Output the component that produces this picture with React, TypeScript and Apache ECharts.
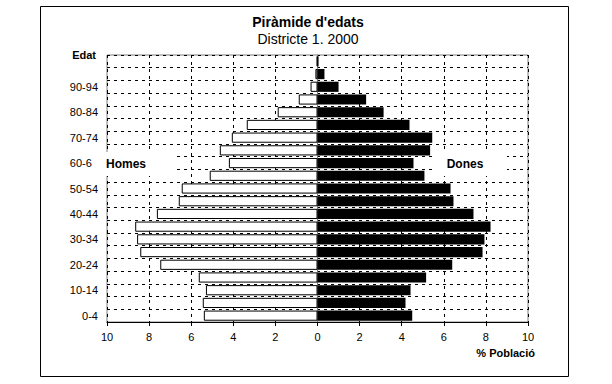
import React, { useEffect, useRef } from "react";
import * as echarts from "echarts";

const ageGroups = ["0-4", "5-9", "10-14", "15-19", "20-24", "25-29", "30-34", "35-39", "40-44", "45-49", "50-54", "55-59", "60-64", "65-69", "70-74", "75-79", "80-84", "85-89", "90-94", "95-99", "100+"];
const homes = [5.40, 5.45, 5.30, 5.64, 7.47, 8.42, 8.57, 8.66, 7.63, 6.59, 6.45, 5.12, 4.21, 4.64, 4.07, 3.36, 1.89, 0.89, 0.33, 0.10, 0.03];
const dones = [4.50, 4.18, 4.42, 5.16, 6.40, 7.84, 7.93, 8.22, 7.41, 6.46, 6.32, 5.08, 4.56, 5.35, 5.45, 4.37, 3.14, 2.31, 1.00, 0.33, 0.05];
const xMin = -10;
const xMax = 10;
const xStep = 2;

const FONT = "'Liberation Sans', Arial, sans-serif";

export default function App() {
  const ref = useRef<HTMLDivElement>(null);
  useEffect(() => {
    if (!ref.current) return;
    const chart = echarts.init(ref.current, null, { renderer: "svg" });
    const dash = { type: [3, 4] as any, color: "#000", width: 1 };
    chart.setOption({
      animation: false,
      backgroundColor: "#fff",
      textStyle: { fontFamily: FONT },
      title: [
        {
          text: "Piràmide d'edats",
          left: 303,
          top: 10,
          textAlign: "center",
          textStyle: { fontFamily: FONT, fontSize: 14, fontWeight: "bold", color: "#000" },
        },
        {
          text: "Districte 1. 2000",
          left: 303,
          top: 27,
          textAlign: "center",
          textStyle: { fontFamily: FONT, fontSize: 14, fontWeight: "normal", color: "#000" },
        },
      ],
      grid: {
        left: 107,
        right: 84,
        top: 55,
        bottom: 62,
        show: true,
        borderColor: "#808080",
        borderWidth: 1,
        backgroundColor: "transparent",
      },
      xAxis: {
        type: "value",
        min: xMin,
        max: xMax,
        interval: xStep,
        axisLine: { show: true, lineStyle: { color: "#000", width: 1 } },
        axisTick: { show: true, length: 4, lineStyle: { color: "#000" } },
        axisLabel: {
          color: "#000",
          fontSize: 11,
          fontFamily: FONT,
          margin: 9,
          formatter: (v: number) => String(Math.abs(v)),
        },
        splitLine: { show: true, lineStyle: dash },
      },
      yAxis: {
        type: "category",
        data: ageGroups,
        axisLine: { show: true, lineStyle: { color: "#808080", width: 1 } },
        axisTick: { show: false },
        axisLabel: {
          color: "#000",
          fontSize: 11,
          fontFamily: FONT,
          margin: 9,
          interval: (i: number) => i % 2 === 0 && i < 20,
        },
        splitLine: { show: true, interval: 0, lineStyle: dash },
      },
      series: [
        {
          name: "Homes",
          type: "bar",
          stack: "total",
          barCategoryGap: "20%",
          data: homes.map((v) => -v),
          itemStyle: { color: "#fff", borderColor: "#000", borderWidth: 1 },
        },
        {
          name: "Dones",
          type: "bar",
          stack: "total",
          barCategoryGap: "20%",
          data: dones,
          itemStyle: { color: "#000" },
        },
      ],
      graphic: [
        {
          type: "rect",
          shape: { x: 40.5, y: 6.5, width: 528, height: 370 },
          style: { fill: "none", stroke: "#000", lineWidth: 1 },
          silent: true,
        },
        {
          type: "text",
          x: 96,
          y: 55,
          style: { text: "Edat", fontFamily: FONT, fontSize: 11, fontWeight: "bold", fill: "#000", align: "right", verticalAlign: "middle" },
        },
        {
          type: "rect",
          shape: { x: 92, y: 152, width: 82, height: 24 },
          style: { fill: "#fff" },
          z: 10,
        },
        {
          type: "text",
          x: 126,
          y: 164,
          z: 11,
          style: { text: "Homes", fontFamily: FONT, fontSize: 12, fontWeight: "bold", fill: "#000", align: "center", verticalAlign: "middle" },
        },
        {
          type: "rect",
          shape: { x: 433, y: 152, width: 74, height: 24 },
          style: { fill: "#fff" },
          z: 10,
        },
        {
          type: "text",
          x: 465,
          y: 164,
          z: 11,
          style: { text: "Dones", fontFamily: FONT, fontSize: 12, fontWeight: "bold", fill: "#000", align: "center", verticalAlign: "middle" },
        },
        {
          type: "text",
          x: 535,
          y: 353,
          style: { text: "% Població", fontFamily: FONT, fontSize: 11, fontWeight: "bold", fill: "#000", align: "right", verticalAlign: "middle" },
        },
      ],
    });
    return () => chart.dispose();
  }, []);
  return (
    <div
      ref={ref}
      style={{ position: "fixed", left: 0, top: 0, width: 612, height: 384, background: "#fff" }}
    />
  );
}
